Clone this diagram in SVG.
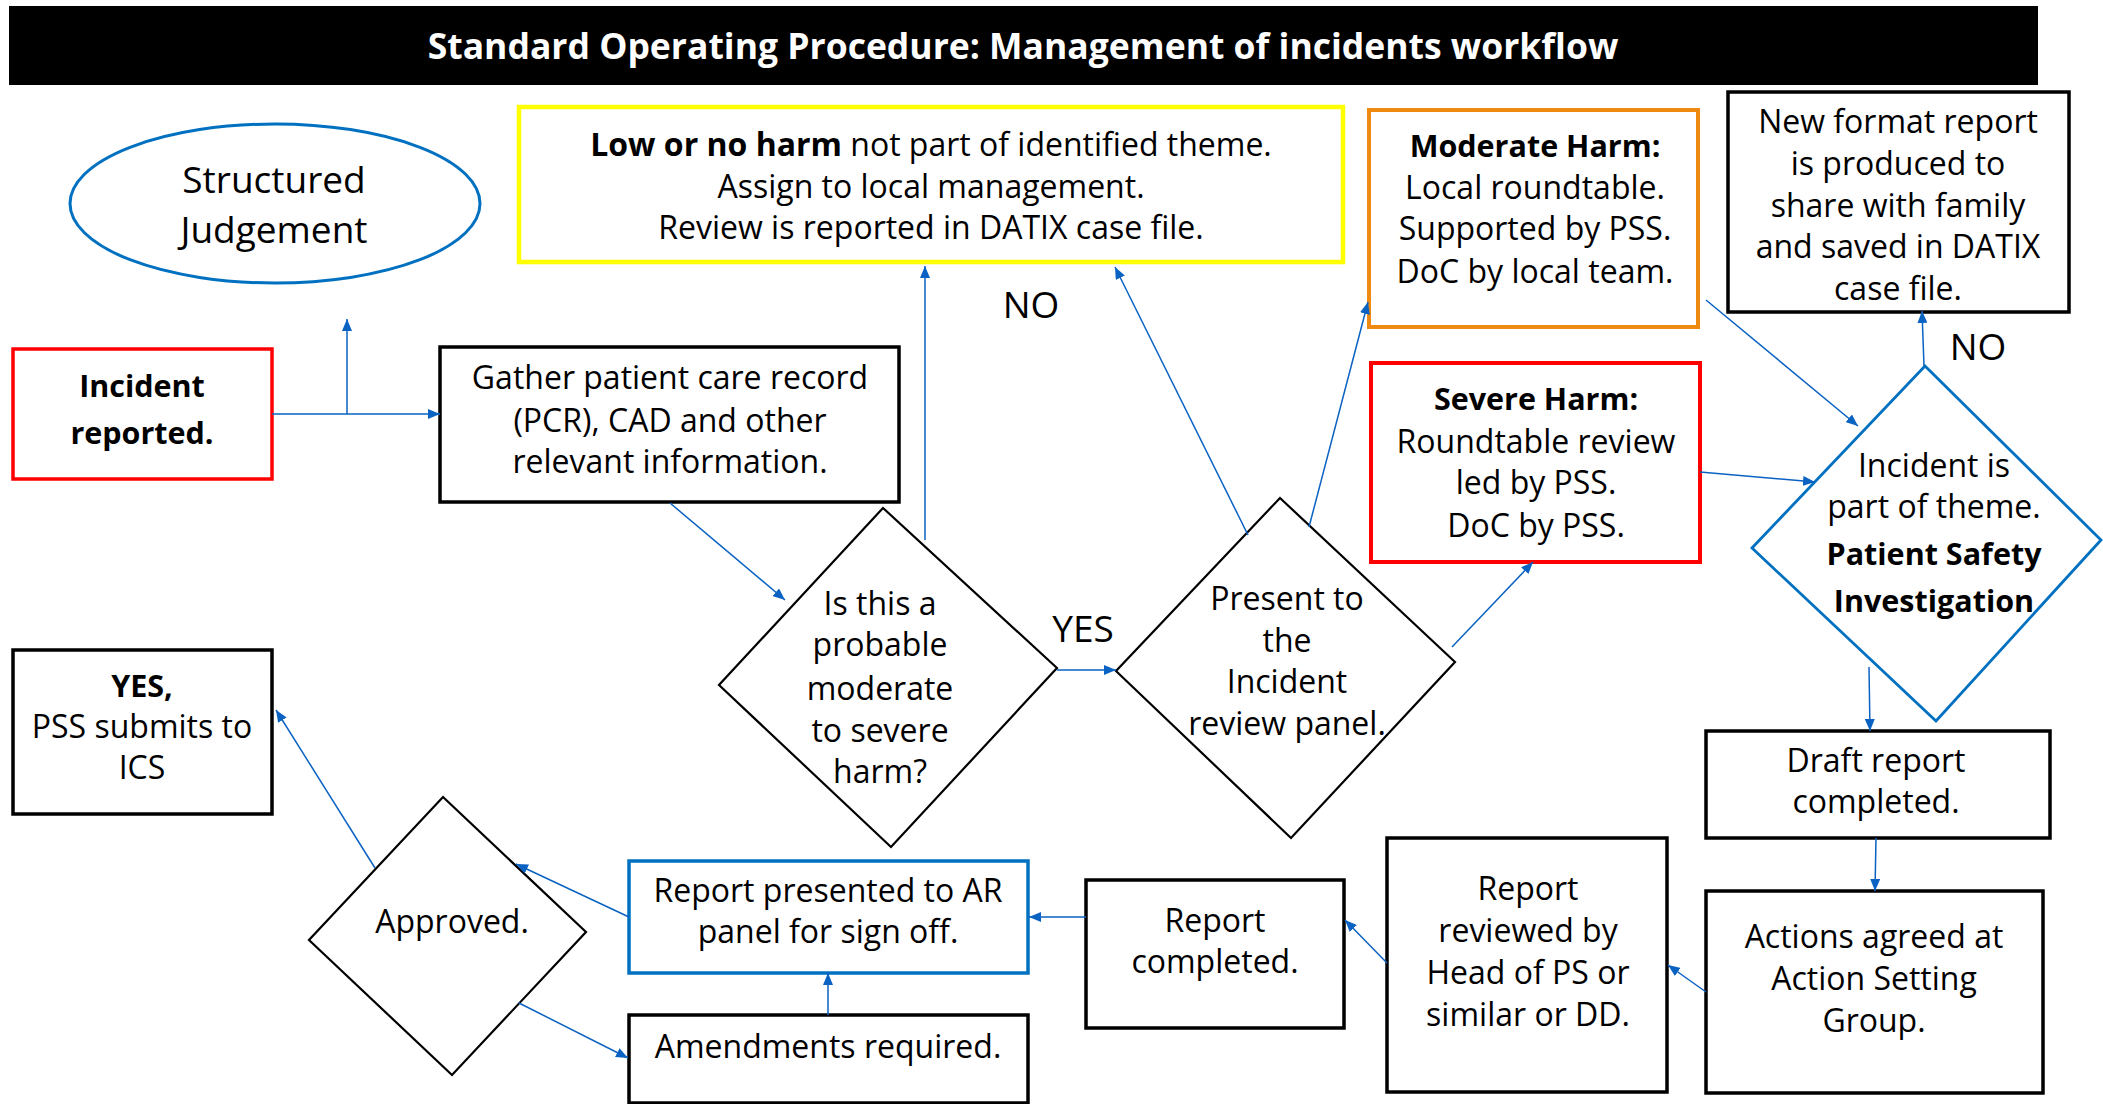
<svg xmlns="http://www.w3.org/2000/svg" width="2103" height="1104" viewBox="0 0 2103 1104">
<defs>
<marker id="ah" viewBox="0 0 12 10" refX="12" refY="5" markerWidth="12" markerHeight="10" markerUnits="userSpaceOnUse" orient="auto">
<path d="M0,0 L12,5 L0,10 z" fill="#0A62C2"/>
</marker>
<style>
text{font-family:"Open Sans","Noto Sans","DejaVu Sans",sans-serif;font-size:32px;fill:#000;text-anchor:middle}
.b{font-weight:bold;font-size:30.5px}
.box{fill:#fff;stroke:#000;stroke-width:3.5}
.dia{fill:#fff;stroke:#000;stroke-width:2.2}
.con{fill:none;stroke:#0A62C2;stroke-width:1.5;marker-end:url(#ah)}
.lbl{font-size:37px}
</style>
</defs>
<rect width="2103" height="1104" fill="#fff"/>
<g id="title">
<rect x="9" y="6" width="2029" height="79" fill="#000"/>
<text x="1023" y="59" class="b" style="fill:#fff;font-size:35.5px">Standard Operating Procedure: Management of incidents workflow</text>
</g>
<g id="structured-judgement">
<ellipse cx="275" cy="203.5" rx="205" ry="79.5" fill="#fff" stroke="#0070C0" stroke-width="3"/>
<text x="274" y="193" style="font-size:37px">Structured</text>
<text x="274" y="243" style="font-size:37px">Judgement</text>
</g>
<g id="low-harm">
<rect x="519" y="107" width="824" height="155" fill="#fff" stroke="#FFFF00" stroke-width="4.5"/>
<text x="931" y="156"><tspan class="b" style="font-size:32px">Low or no harm</tspan> not part of identified theme.</text>
<text x="931" y="198">Assign to local management.</text>
<text x="931" y="239">Review is reported in DATIX case file.</text>
</g>
<g id="moderate-harm">
<rect x="1369" y="110" width="329" height="217" fill="#fff" stroke="#EE8A12" stroke-width="4"/>
<text x="1535" y="157" class="b">Moderate Harm:</text>
<text x="1535" y="199">Local roundtable.</text>
<text x="1535" y="240">Supported by PSS.</text>
<text x="1535" y="283">DoC by local team.</text>
</g>
<g id="new-format">
<rect x="1728" y="92" width="341" height="220" class="box"/>
<text x="1898" y="133">New format report</text>
<text x="1898" y="175">is produced to</text>
<text x="1898" y="217">share with family</text>
<text x="1898" y="258">and saved in DATIX</text>
<text x="1898" y="300">case file.</text>
</g>
<g id="incident-reported">
<rect x="13" y="349" width="259" height="130" fill="#fff" stroke="#FF0000" stroke-width="3.5"/>
<text x="142" y="397" class="b">Incident</text>
<text x="142" y="444" class="b">reported.</text>
</g>
<g id="gather">
<rect x="440" y="347" width="459" height="155" class="box"/>
<text x="670" y="389">Gather patient care record</text>
<text x="670" y="432">(PCR), CAD and other</text>
<text x="670" y="473">relevant information.</text>
</g>
<g id="probable-harm">
<polygon points="883,508 1057,668 891,847 719,685" class="dia"/>
<text x="880" y="615">Is this a</text>
<text x="880" y="656">probable</text>
<text x="880" y="700">moderate</text>
<text x="880" y="742">to severe</text>
<text x="880" y="783">harm?</text>
</g>
<g id="present-panel">
<polygon points="1280,498 1455,662 1291,838 1116,671" class="dia"/>
<text x="1287" y="610">Present to</text>
<text x="1287" y="652">the</text>
<text x="1287" y="693">Incident</text>
<text x="1287" y="735">review panel.</text>
</g>
<g id="severe-harm">
<rect x="1371" y="363" width="329" height="199" fill="#fff" stroke="#FF0000" stroke-width="4"/>
<text x="1536" y="410" class="b">Severe Harm:</text>
<text x="1536" y="453">Roundtable review</text>
<text x="1536" y="494">led by PSS.</text>
<text x="1536" y="537">DoC by PSS.</text>
</g>
<g id="theme">
<polygon points="1925,366 2101,540 1936,721 1752,548" fill="#fff" stroke="#0070C0" stroke-width="2.8"/>
<text x="1934" y="477">Incident is</text>
<text x="1934" y="518">part of theme.</text>
<text x="1934" y="565" class="b">Patient Safety</text>
<text x="1934" y="612" class="b">Investigation</text>
</g>
<g id="draft-report">
<rect x="1706" y="731" width="344" height="107" class="box"/>
<text x="1876" y="772">Draft report</text>
<text x="1876" y="813">completed.</text>
</g>
<g id="actions-agreed">
<rect x="1706" y="891" width="337" height="202" class="box"/>
<text x="1874" y="948">Actions agreed at</text>
<text x="1874" y="990">Action Setting</text>
<text x="1874" y="1032">Group.</text>
</g>
<g id="report-reviewed">
<rect x="1387" y="838" width="280" height="254" class="box"/>
<text x="1528" y="900">Report</text>
<text x="1528" y="942">reviewed by</text>
<text x="1528" y="984">Head of PS or</text>
<text x="1528" y="1026">similar or DD.</text>
</g>
<g id="report-completed">
<rect x="1086" y="880" width="258" height="148" class="box"/>
<text x="1215" y="932">Report</text>
<text x="1215" y="973">completed.</text>
</g>
<g id="ar-panel">
<rect x="629" y="861" width="399" height="112" fill="#fff" stroke="#0070C0" stroke-width="3.5"/>
<text x="828" y="902">Report presented to AR</text>
<text x="828" y="943">panel for sign off.</text>
</g>
<g id="amendments">
<rect x="629" y="1015" width="399" height="88" class="box"/>
<text x="828" y="1058">Amendments required.</text>
</g>
<g id="approved">
<polygon points="443,797 586,932 452,1075 309,940" class="dia"/>
<text x="452" y="933">Approved.</text>
</g>
<g id="submit-ics">
<rect x="13" y="650" width="259" height="164" class="box"/>
<text x="142" y="697" class="b">YES,</text>
<text x="142" y="738">PSS submits to</text>
<text x="142" y="779">ICS</text>
</g>
<g id="labels">
<text x="1031" y="318" class="lbl">NO</text>
<text x="1978" y="360" class="lbl">NO</text>
<text x="1083" y="642" class="lbl">YES</text>
</g>
<g id="connectors">
<path d="M272,414 L440,414" class="con"/>
<path d="M347,414 L347,319" class="con"/>
<path d="M670,503 L785,600" class="con"/>
<path d="M925,540 L925,266" class="con"/>
<path d="M1057,670 L1116,670" class="con"/>
<path d="M1248,535 L1115,267" class="con"/>
<path d="M1309,527 L1368,302" class="con"/>
<path d="M1452,647 L1533,562" class="con"/>
<path d="M1706,300 L1858,426" class="con"/>
<path d="M1700,472 L1815,482" class="con"/>
<path d="M1924,366 L1922,311" class="con"/>
<path d="M1869,667 L1870,731" class="con"/>
<path d="M1876,838 L1875,891" class="con"/>
<path d="M1706,992 L1668,965" class="con"/>
<path d="M1387,963 L1345,920" class="con"/>
<path d="M1086,917 L1029,917" class="con"/>
<path d="M629,917 L516,864" class="con"/>
<path d="M375,868 L276,710" class="con"/>
<path d="M519,1003 L628,1058" class="con"/>
<path d="M828,1015 L828,973" class="con"/>
</g>
</svg>
